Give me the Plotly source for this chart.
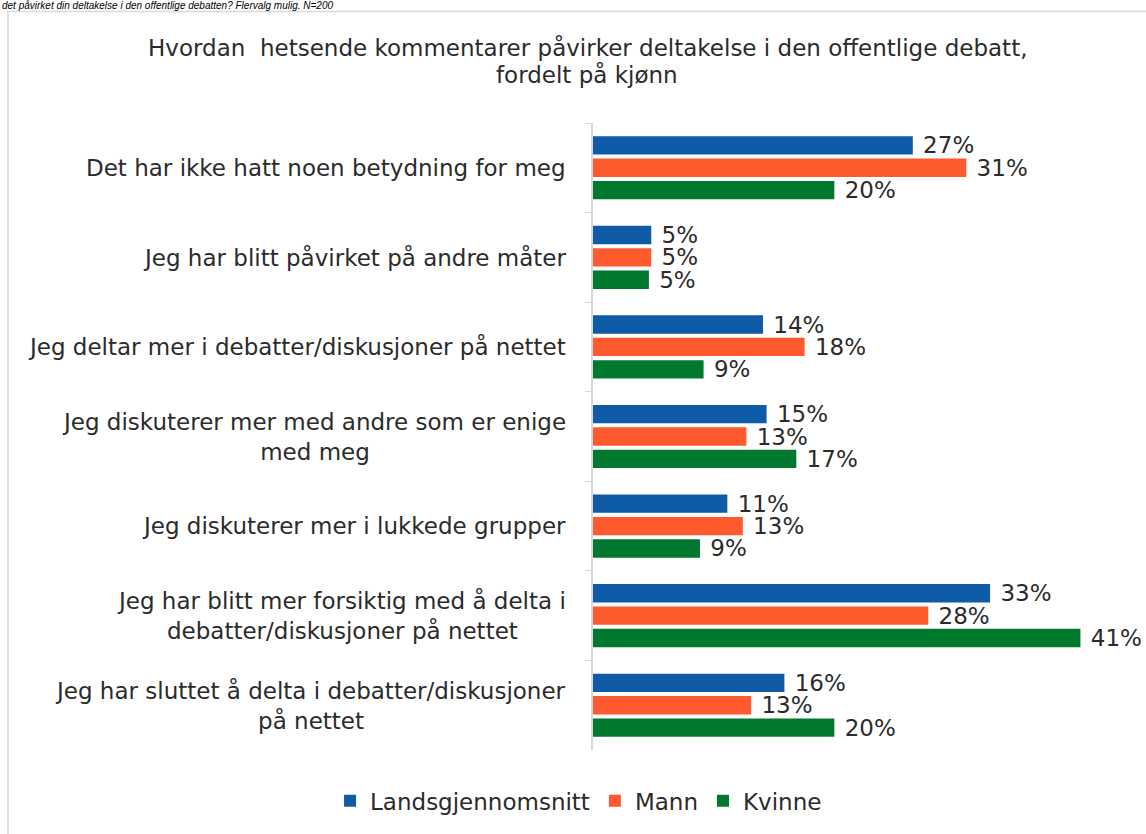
import plotly.graph_objects as go

categories = [
    "Det har ikke hatt noen betydning for meg",
    "Jeg har blitt påvirket på andre måter",
    "Jeg deltar mer i debatter/diskusjoner på nettet",
    "Jeg diskuterer mer med andre som er enige<br>med meg",
    "Jeg diskuterer mer i lukkede grupper",
    "Jeg har blitt mer forsiktig med å delta i<br>debatter/diskusjoner på nettet",
    "Jeg har sluttet å delta i debatter/diskusjoner<br>på nettet",
]
series_names = ["Landsgjennomsnitt", "Mann", "Kvinne"]
landsgjennomsnitt = [26.9, 4.9, 14.3, 14.6, 11.3, 33.4, 16.1]
mann = [31.4, 4.9, 17.8, 12.9, 12.6, 28.2, 13.3]
kvinne = [20.3, 4.7, 9.3, 17.1, 9.0, 41.0, 20.3]
colors = ["#0F5BA7", "#FF5A2D", "#00782E"]

title_lines = ["Hvordan  hetsende kommentarer påvirker deltakelse i den offentlige debatt,",
               "fordelt på kjønn"]
top_note = "det påvirket din deltakelse i den offentlige debatten? Flervalg mulig. N=200"

FONT = "DejaVu Sans, Verdana, sans-serif"
TXT = "#2b2b2b"
FS = 23

fig = go.Figure()
for name, vals, col in zip(series_names, [landsgjennomsnitt, mann, kvinne], colors):
    fig.add_trace(go.Bar(
        y=categories, x=vals, name=name, orientation="h",
        marker=dict(color=col, line=dict(width=0)),
        texttemplate="\u00a0%{x:.0f}%", textposition="outside",
        textfont=dict(family=FONT, size=FS, color=TXT),
        constraintext="none", cliponaxis=False,
    ))

for cat in categories:
    fig.add_annotation(
        x=0, xref="paper", y=cat, yref="y", xanchor="right", xshift=-25,
        text=cat, showarrow=False, align="center",
        font=dict(family=FONT, size=FS, color=TXT),
    )

# title, two lines (tight Excel-like line spacing)
for i, line in enumerate(title_lines):
    fig.add_annotation(
        x=-0.011, xref="paper", y=1.0, yref="paper", xanchor="center", yanchor="middle",
        yshift=123 - 47 - i * 27,
        text=line, showarrow=False, align="center",
        font=dict(family=FONT, size=23, color=TXT),
    )

fig.add_annotation(
    x=0, xref="paper", y=1, yref="paper", xanchor="left", yanchor="top",
    xshift=-593, yshift=123 + 2,
    text="<i>" + top_note + "</i>", showarrow=False, align="left",
    font=dict(family="Liberation Sans, Arial, sans-serif", size=10, color="#000000"),
)

fig.add_shape(type="rect", xref="paper", yref="paper",
              x0=-1.0935, x1=1.06, y0=-0.16, y1=1.178,
              line=dict(color="#D9D9D9", width=1.5), fillcolor="rgba(0,0,0,0)", layer="below")

fig.update_layout(
    width=1146, height=834,
    margin=dict(l=593, r=18, t=123, b=82),
    paper_bgcolor="white", plot_bgcolor="white",
    barmode="group", bargap=0.25, bargroupgap=0.18,
    showlegend=True,
    legend=dict(orientation="h", x=-0.027, xanchor="center", y=-0.081, yanchor="middle",
                font=dict(family=FONT, size=FS, color=TXT), itemwidth=30,
                traceorder="normal"),
    xaxis=dict(range=[0, 45], visible=False),
    yaxis=dict(autorange="reversed", showticklabels=False, showline=True,
               linecolor="#D9D9D9", linewidth=1.5, ticks="outside", ticklen=6,
               tickcolor="#D9D9D9", tickson="boundaries", showgrid=False),
    font=dict(family=FONT),
)
fig.write_html("out.html", config={"displayModeBar": False},
               post_script="document.body.style.margin='0';")
